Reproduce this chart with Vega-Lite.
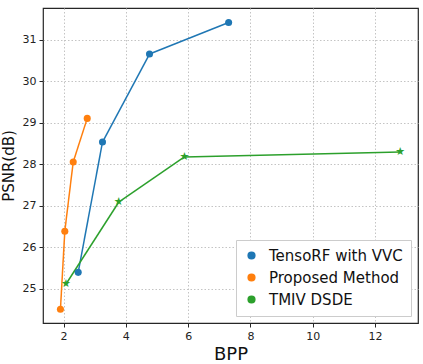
{
  "$schema": "https://vega.github.io/schema/vega-lite/v6.json",
  "width": 375,
  "height": 315,
  "autosize": "none",
  "padding": {"left": 43, "top": 8, "right": 5, "bottom": 41},
  "background": "white",
  "data": {
    "values": [
      {"series": "TensoRF with VVC", "bpp": 2.47, "psnr": 25.40},
      {"series": "TensoRF with VVC", "bpp": 3.25, "psnr": 28.54},
      {"series": "TensoRF with VVC", "bpp": 4.76, "psnr": 30.66},
      {"series": "TensoRF with VVC", "bpp": 7.30, "psnr": 31.42},
      {"series": "Proposed Method", "bpp": 1.90, "psnr": 24.51},
      {"series": "Proposed Method", "bpp": 2.04, "psnr": 26.39},
      {"series": "Proposed Method", "bpp": 2.31, "psnr": 28.06},
      {"series": "Proposed Method", "bpp": 2.76, "psnr": 29.11},
      {"series": "TMIV DSDE", "bpp": 2.08, "psnr": 25.12},
      {"series": "TMIV DSDE", "bpp": 3.77, "psnr": 27.09},
      {"series": "TMIV DSDE", "bpp": 5.88, "psnr": 28.18},
      {"series": "TMIV DSDE", "bpp": 12.81, "psnr": 28.30}
    ]
  },
  "config": {
    "font": "DejaVu Sans",
    "view": {"stroke": "#262626", "strokeWidth": 1.2},
    "axis": {"labelFontSize": 11, "labelColor": "#222222", "tickColor": "#262626", "tickSize": 4, "labelPadding": 3, "domain": false, "gridColor": "#c4c4c4", "gridDash": [1.5, 2], "titleFontWeight": "normal", "titleColor": "#111111"},
    "legend": {"labelFontSize": 15, "labelColor": "#111111", "symbolType": "circle", "symbolSize": 45, "labelOffset": 10, "rowPadding": 6, "padding": 8, "fillColor": "white", "strokeColor": "#cccccc", "cornerRadius": 0}
  },
  "layer": [
    {
      "transform": [
        {"window": [{"op": "lead", "field": "bpp", "as": "bpp2"}, {"op": "lead", "field": "psnr", "as": "psnr2"}], "groupby": ["series"], "sort": [{"field": "bpp", "order": "ascending"}]},
        {"filter": "datum.bpp2 != null"}
      ],
      "mark": {"type": "rule", "strokeWidth": 1.5},
      "encoding": {
        "x": {"field": "bpp", "type": "quantitative", "scale": {"domain": [1.34, 13.38], "nice": false, "zero": false}, "axis": {"title": "BPP", "titleFontSize": 18, "titlePadding": 4, "values": [2, 4, 6, 8, 10, 12]}},
        "y": {"field": "psnr", "type": "quantitative", "scale": {"domain": [24.18, 31.77], "nice": false, "zero": false}, "axis": {"title": "PSNR(dB)", "titleFontSize": 15, "titlePadding": 6, "values": [25, 26, 27, 28, 29, 30, 31]}},
        "x2": {"field": "bpp2"},
        "y2": {"field": "psnr2"},
        "color": {
          "field": "series", "type": "nominal",
          "scale": {"domain": ["TensoRF with VVC", "Proposed Method", "TMIV DSDE"], "range": ["#1f77b4", "#ff7f0e", "#2ca02c"]},
          "legend": {
            "title": null, "orient": "bottom-right", "offset": 7, "symbolType": "circle",
            "encode": {"symbols": {"update": {"fill": {"scale": "color", "field": "value"}, "opacity": {"value": 1}}}}
          }
        }
      }
    },
    {
      "transform": [{"filter": "datum.series != 'TMIV DSDE'"}],
      "mark": {"type": "point", "shape": "circle", "filled": true, "size": 50, "opacity": 1},
      "encoding": {
        "x": {"field": "bpp", "type": "quantitative"},
        "y": {"field": "psnr", "type": "quantitative"},
        "color": {"field": "series", "type": "nominal"}
      }
    },
    {
      "transform": [{"filter": "datum.series == 'TMIV DSDE'"}],
      "mark": {"type": "text", "text": "★", "fontSize": 11, "baseline": "middle", "align": "center"},
      "encoding": {
        "x": {"field": "bpp", "type": "quantitative"},
        "y": {"field": "psnr", "type": "quantitative"},
        "color": {"field": "series", "type": "nominal"}
      }
    }
  ]
}
